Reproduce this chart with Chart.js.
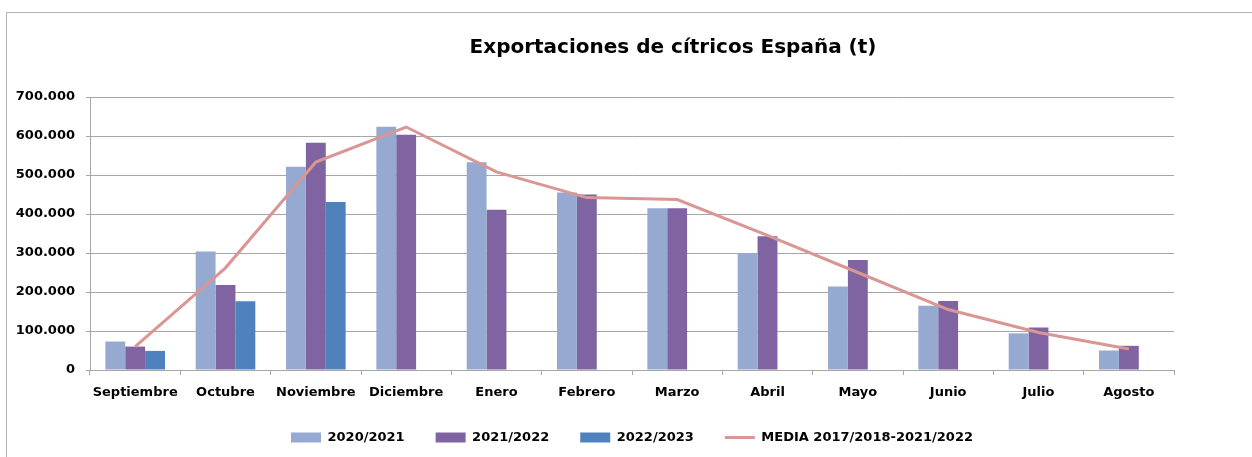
<!DOCTYPE html>
<html>
<head>
<meta charset="utf-8">
<script src="https://cdn.jsdelivr.net/npm/chart.js@4"></script>
<style>
  html, body { margin: 0; padding: 0; background: #fff; overflow: hidden; }
  #wrap { position: relative; width: 1252px; height: 457px; }
  #frame {
    position: absolute; left: 6px; top: 12px; width: 1400px; height: 600px;
    border-left: 1px solid #b3b3b3; border-top: 1px solid #b3b3b3;
  }
  #title {
    position: absolute; left: 373px; top: 34px; width: 600px;
    text-align: center; font: bold 20px "DejaVu Sans"; line-height: 24px; color: #000;
  }
  canvas { position: absolute; left: 0; top: 0; }
</style>
</head>
<body>
<div id="wrap">
  <div id="frame"></div>
  <canvas id="chart" width="1252" height="457"></canvas>
  <div id="title">Exportaciones de cítricos España (t)</div>
</div>
<script>
const months = ["Septiembre", "Octubre", "Noviembre", "Diciembre", "Enero", "Febrero",
  "Marzo", "Abril", "Mayo", "Junio", "Julio", "Agosto"];
const s2020 = [73000, 304000, 521000, 624000, 533000, 455000, 415000, 300000, 214000, 165000, 94000, 50000];
const s2021 = [60000, 218000, 583000, 603000, 411000, 450000, 415000, 343000, 282000, 177000, 109000, 62000];
const s2022 = [49000, 176000, 431000, null, null, null, null, null, null, null, null, null];
const media = [60000, 262000, 533000, 623000, 508000, 442000, 437000, 345000, 250000, 155000, 96000, 54000];

const fmtThousands = (v) =>
  v === 0 ? "0" : String(v).replace(/\B(?=(\d{3})+(?!\d))/g, ".");

const gridGray = "#a6a6a6";

Chart.defaults.font.family = "DejaVu Sans";
Chart.defaults.font.weight = "bold";
Chart.defaults.font.size = 13;
Chart.defaults.color = "#000";

new Chart(document.getElementById("chart"), {
  data: {
    labels: months,
    datasets: [
      { type: "bar", label: "2020/2021", data: s2020, backgroundColor: "#95a9d1" },
      { type: "bar", label: "2021/2022", data: s2021, backgroundColor: "#8064a2" },
      { type: "bar", label: "2022/2023", data: s2022, backgroundColor: "#4f81bd" },
      {
        type: "line",
        label: "MEDIA 2017/2018-2021/2022",
        data: media,
        borderColor: "#d99694",
        backgroundColor: "#d99694",
        borderWidth: 3,
        pointRadius: 0,
        tension: 0,
        order: -1,
      },
    ],
  },
  options: {
    responsive: false,
    animation: false,
    events: [],
    datasets: { bar: { categoryPercentage: 0.66, barPercentage: 1 } },
    layout: { padding: { left: 16, right: 78, top: 97, bottom: 3 } },
    plugins: {
      title: { display: false },
      tooltip: { enabled: false },
      legend: {
        position: "bottom",
        fullSize: false,
        labels: {
          usePointStyle: true,
          pointStyleWidth: 30,
          boxHeight: 10,
          padding: 31,
          sort: (a, b) => a.datasetIndex - b.datasetIndex,
          generateLabels(chart) {
            const items = Chart.defaults.plugins.legend.labels.generateLabels(chart);
            items.forEach((it) => {
              const ds = chart.data.datasets[it.datasetIndex];
              it.pointStyle = ds.type === "line" ? "line" : "rect";
            });
            return items;
          },
        },
      },
    },
    scales: {
      x: {
        afterFit: (s) => { s.height = 30; },
        grid: { offset: true, drawOnChartArea: false, drawTicks: true, tickLength: 5, color: gridGray },
        border: { color: gridGray },
        ticks: { autoSkip: false, maxRotation: 0, padding: 10 },
      },
      y: {
        min: 0,
        max: 700000,
        afterFit: (s) => { s.width = 74; },
        grid: { color: gridGray, tickLength: 4 },
        border: { color: gridGray },
        ticks: { stepSize: 100000, padding: 11, callback: (v) => fmtThousands(v) },
      },
    },
  },
});
</script>
</body>
</html>
